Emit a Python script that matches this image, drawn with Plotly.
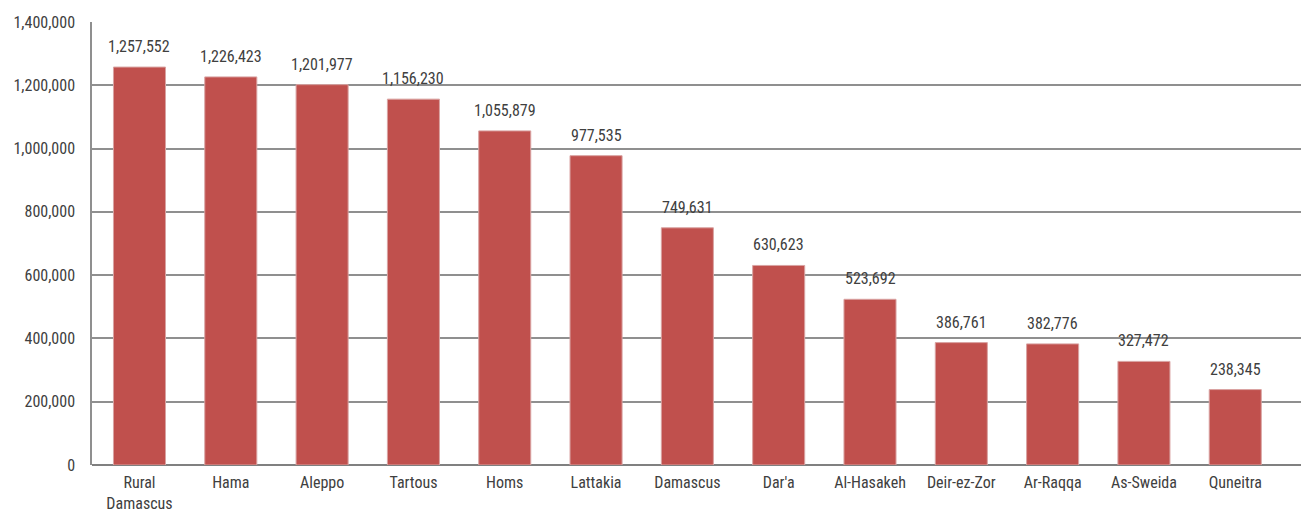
import plotly.graph_objects as go

categories = ["Rural<br>Damascus", "Hama", "Aleppo", "Tartous", "Homs", "Lattakia", "Damascus",
              "Dar'a", "Al-Hasakeh", "Deir-ez-Zor", "Ar-Raqqa", "As-Sweida", "Quneitra"]
values = [1257552, 1226423, 1201977, 1156230, 1055879, 977535, 749631,
          630623, 523692, 386761, 382776, 327472, 238345]
y_ticks = [0, 200000, 400000, 600000, 800000, 1000000, 1200000, 1400000]

font_family = "Roboto Condensed, Liberation Sans Narrow, Arial Narrow, Liberation Sans, sans-serif"
text_color = "#404040"

fig = go.Figure(go.Bar(
    x=categories, y=values,
    marker=dict(color="#C0504D", line=dict(color="#D9A3A2", width=1)),
    cliponaxis=False,
))

for c, v in zip(categories, values):
    fig.add_annotation(x=c, y=v, text=f"{v:,}", showarrow=False,
                       yanchor="bottom", yshift=9,
                       font=dict(size=16, color=text_color, family=font_family))

fig.update_layout(
    width=1301, height=512,
    margin=dict(l=92, r=0, t=22, b=47),
    paper_bgcolor="white", plot_bgcolor="white",
    bargap=0.43,
    showlegend=False,
    font=dict(family=font_family, size=16, color=text_color),
    xaxis=dict(range=[-0.52, 12.72], showgrid=False, showline=False, ticks="",
               tickfont=dict(size=16), ticklabelstandoff=6, automargin=False),
    yaxis=dict(range=[0, 1400000], tickvals=y_ticks, tickformat=",d",
               showgrid=True, gridcolor="#8f8f8f", gridwidth=1.5,
               showline=True, linecolor="#8f8f8f", linewidth=1.5,
               zeroline=True, zerolinecolor="#808080", zerolinewidth=2,
               ticks="", tickfont=dict(size=16), automargin=False,
               ticklabelstandoff=12),
)

fig.write_html("out.html", config={"displayModeBar": False},
               post_script="document.body.style.margin='0';document.body.style.overflow='hidden';")
